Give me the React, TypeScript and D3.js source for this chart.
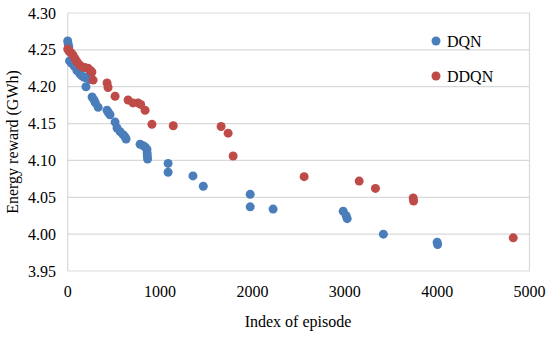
import React, { useEffect, useRef } from 'react';
import * as d3 from 'd3';

// episode index / energy reward (GWh)
const dqnEpisode = [0, 5, 12, 20, 40, 70, 100, 130, 150, 175, 200, 220, 235, 198, 264, 285, 300, 330,
  426, 440, 458, 513, 534, 567, 600, 621, 632, 784, 817, 840, 858, 860, 862, 865,
  1087, 1087, 1356, 1468, 1976, 1976, 2224, 2983, 3015, 3026, 3418, 4000, 4005];
const dqnReward = [4.262, 4.258, 4.254, 4.235, 4.232, 4.228, 4.222, 4.218, 4.215, 4.213, 4.212, 4.214, 4.210, 4.200, 4.186, 4.182, 4.178, 4.172,
  4.168, 4.165, 4.162, 4.152, 4.144, 4.139, 4.135, 4.132, 4.129, 4.122, 4.120, 4.118, 4.115, 4.110, 4.106, 4.102,
  4.096, 4.084, 4.079, 4.065, 4.054, 4.037, 4.034, 4.031, 4.025, 4.021, 4.000, 3.989, 3.986];

const ddqnEpisode = [0, 15, 35, 57, 80, 100, 125, 153, 185, 220, 245, 262, 275,
  426, 437, 513, 654, 707, 762, 790, 838, 912, 1143, 1661, 1737, 1791,
  2560, 3156, 3332, 3741, 3745, 4824];
const ddqnReward = [4.251, 4.248, 4.246, 4.243, 4.238, 4.234, 4.230, 4.227, 4.226, 4.225, 4.222, 4.220, 4.209,
  4.205, 4.199, 4.187, 4.182, 4.178, 4.178, 4.176, 4.168, 4.149, 4.147, 4.146, 4.137, 4.106,
  4.078, 4.072, 4.062, 4.049, 4.045, 3.995];

const yTicks = [3.95, 4.0, 4.05, 4.1, 4.15, 4.2, 4.25, 4.3];
const xTicks = [0, 1000, 2000, 3000, 4000, 5000];
const seriesNames = ['DQN', 'DDQN'];
const colors = ['#4a7ebb', '#be4b48'];

export default function App() {
  const ref = useRef<SVGSVGElement>(null);

  useEffect(() => {
    const width = 550;
    const height = 338;
    const svg = d3.select(ref.current);
    svg.selectAll('*').remove();
    const font = '"Liberation Serif", "Times New Roman", serif';

    const x = d3.scaleLinear().domain([0, 5000]).range([67.7, 529.5]);
    const y = d3.scaleLinear().domain([3.95, 4.3]).range([271, 13]);

    svg.append('rect').attr('width', width).attr('height', height).attr('fill', '#fff');

    // grid
    svg.append('g')
      .selectAll('line')
      .data(yTicks)
      .join('line')
      .attr('x1', x(0))
      .attr('x2', x(5000))
      .attr('y1', (d) => y(d))
      .attr('y2', (d) => y(d))
      .attr('stroke', '#d9d9d9')
      .attr('stroke-width', 1.2);
    [0, 5000].forEach((v) => {
      svg.append('line')
        .attr('x1', x(v)).attr('x2', x(v))
        .attr('y1', y(4.3)).attr('y2', y(3.95))
        .attr('stroke', '#d9d9d9')
        .attr('stroke-width', 1.2);
    });

    // tick labels
    svg.append('g')
      .selectAll('text')
      .data(yTicks)
      .join('text')
      .attr('x', 56)
      .attr('y', (d) => y(d))
      .attr('dy', '0.35em')
      .attr('text-anchor', 'end')
      .attr('font-family', font)
      .attr('font-size', 16)
      .text((d) => d3.format('.2f')(d));

    svg.append('g')
      .selectAll('text')
      .data(xTicks)
      .join('text')
      .attr('x', (d) => x(d))
      .attr('y', 297)
      .attr('text-anchor', 'middle')
      .attr('font-family', font)
      .attr('font-size', 16)
      .text((d) => d);

    svg.append('text')
      .attr('transform', `translate(18,${(y(4.3) + y(3.95)) / 2}) rotate(-90)`)
      .attr('text-anchor', 'middle')
      .attr('font-family', font)
      .attr('font-size', 16)
      .text('Energy reward (GWh)');

    svg.append('text')
      .attr('x', 298)
      .attr('y', 327)
      .attr('text-anchor', 'middle')
      .attr('font-family', font)
      .attr('font-size', 16)
      .text('Index of episode');

    // points
    const series = [
      dqnEpisode.map((e, i) => [e, dqnReward[i]]),
      ddqnEpisode.map((e, i) => [e, ddqnReward[i]]),
    ];
    series.forEach((pts, k) => {
      svg.append('g')
        .selectAll('circle')
        .data(pts)
        .join('circle')
        .attr('cx', (d) => x(d[0]))
        .attr('cy', (d) => y(d[1]))
        .attr('r', 4.5)
        .attr('fill', colors[k]);
    });

    // legend
    const legend = svg.append('g').attr('transform', 'translate(436,41)');
    seriesNames.forEach((name, k) => {
      const g = legend.append('g').attr('transform', `translate(0,${k * 35})`);
      g.append('circle').attr('r', 4.5).attr('fill', colors[k]);
      g.append('text')
        .attr('x', 11)
        .attr('dy', '0.35em')
        .attr('font-family', font)
        .attr('font-size', 16)
        .text(name);
    });
  }, []);

  return (
    <svg
      ref={ref}
      width={550}
      height={338}
      style={{ position: 'absolute', left: 0, top: 0, display: 'block' }}
    />
  );
}
